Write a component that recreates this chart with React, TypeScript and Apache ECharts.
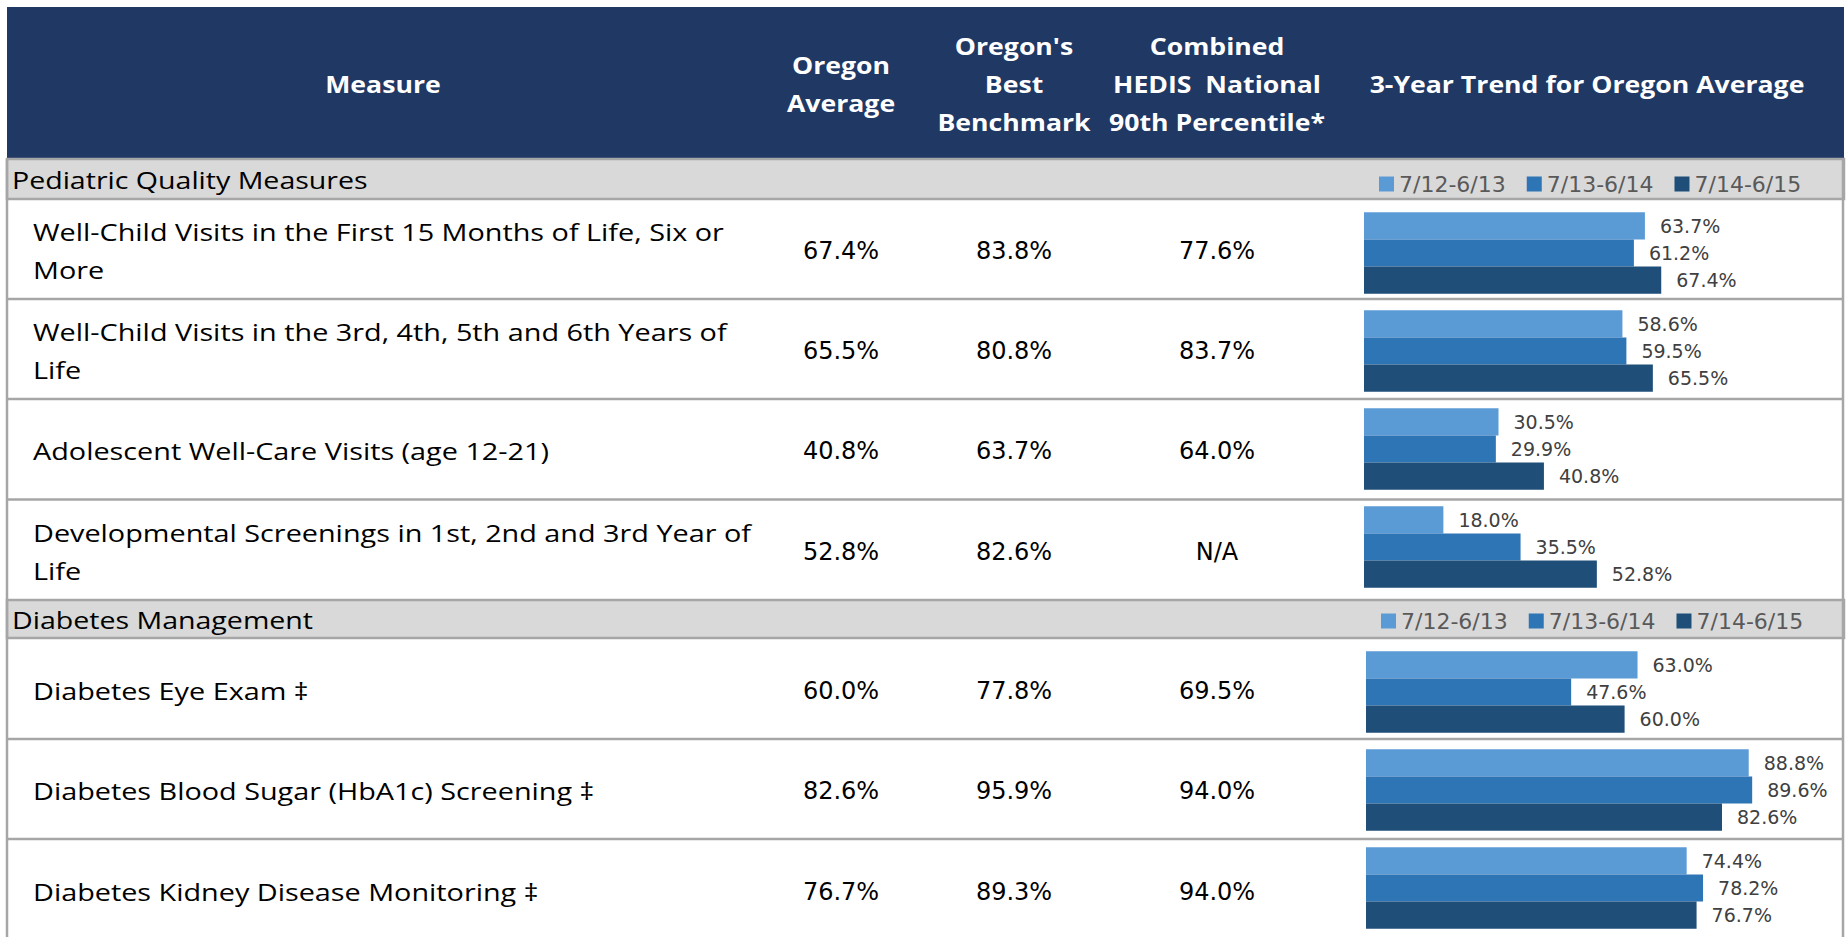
import React, { useEffect, useRef } from "react";
import * as echarts from "echarts";

// ---------- data ----------
const headerLabels = [
  "Measure",
  "Oregon\nAverage",
  "Oregon's\nBest\nBenchmark",
  "Combined\nHEDIS  National\n90th Percentile*",
  "3-Year Trend for Oregon Average",
];
const sectionNames = ["Pediatric Quality Measures", "Diabetes Management"];
const periods = ["7/12-6/13", "7/13-6/14", "7/14-6/15"];

const pediatricMeasures = [
  "Well-Child Visits in the First 15 Months of Life, Six or\nMore",
  "Well-Child Visits in the 3rd, 4th, 5th and 6th Years of\nLife",
  "Adolescent Well-Care Visits (age 12-21)",
  "Developmental Screenings in 1st, 2nd and 3rd Year of\nLife",
];
const pediatricOregonAvg = [67.4, 65.5, 40.8, 52.8];
const pediatricBest = [83.8, 80.8, 63.7, 82.6];
const pediatricHedis: (number | null)[] = [77.6, 83.7, 64.0, null];
const pediatric1213 = [63.7, 58.6, 30.5, 18.0];
const pediatric1314 = [61.2, 59.5, 29.9, 35.5];
const pediatric1415 = [67.4, 65.5, 40.8, 52.8];

const diabetesMeasures = [
  "Diabetes Eye Exam \u2021",
  "Diabetes Blood Sugar (HbA1c) Screening \u2021",
  "Diabetes Kidney Disease Monitoring \u2021",
];
const diabetesOregonAvg = [60.0, 82.6, 76.7];
const diabetesBest = [77.8, 95.9, 89.3];
const diabetesHedis: (number | null)[] = [69.5, 94.0, 94.0];
const diabetes1213 = [63.0, 88.8, 74.4];
const diabetes1314 = [47.6, 89.6, 78.2];
const diabetes1415 = [60.0, 82.6, 76.7];

// ---------- style / layout ----------
const NAVY = "#203864";
const BAND = "#D9D9D9";
const RULE = "#A6A6A6";
const BAR_COLORS = ["#5B9BD5", "#2E75B6", "#1F4E79"];
const LABEL_FONT = "Open Sans";
const NUM_FONT = "DejaVu Sans";

const TABLE_L = 7;
const TABLE_R = 1844;
const HEADER_T = 7;
const HEADER_B = 159;
const COL_X = [383, 841, 1014, 1217, 1587];

const sections = [
  {
    bandTop: 159,
    bandBottom: 199,
    rowTops: [199, 299, 399, 499.5],
    bottom: 600,
    measures: pediatricMeasures,
    avg: pediatricOregonAvg,
    best: pediatricBest,
    hedis: pediatricHedis,
    trend: [pediatric1213, pediatric1314, pediatric1415],
    grid: { left: 1364, top: 204, width: 441, height: 392 },
    legendTop: 173,
    legendLeft: 1379,
  },
  {
    bandTop: 600,
    bandBottom: 638,
    rowTops: [638, 739, 839],
    bottom: 940,
    measures: diabetesMeasures,
    avg: diabetesOregonAvg,
    best: diabetesBest,
    hedis: diabetesHedis,
    trend: [diabetes1213, diabetes1314, diabetes1415],
    grid: { left: 1366, top: 643, width: 431, height: 294 },
    legendTop: 610,
    legendLeft: 1381,
  },
];

const fmt = (v: number | null) => (v == null ? "N/A" : v.toFixed(1) + "%");

function buildGraphic() {
  const els: any[] = [];
  // header
  els.push({
    type: "rect",
    shape: { x: TABLE_L, y: HEADER_T, width: TABLE_R - TABLE_L, height: HEADER_B - HEADER_T },
    style: { fill: NAVY },
    z: 0,
  });
  headerLabels.forEach((t, i) => {
    els.push({
      type: "text",
      x: COL_X[i],
      y: 84,
      scaleX: 1.11,
      z: 1,
      style: {
        text: t,
        fill: "#FFFFFF",
        fontFamily: LABEL_FONT,
        fontWeight: "bold",
        fontSize: 24,
        lineHeight: 38,
        textAlign: "center",
        textVerticalAlign: "middle",
      },
    });
  });

  sections.forEach((s, si) => {
    // band
    els.push({
      type: "rect",
      shape: { x: TABLE_L, y: s.bandTop, width: TABLE_R - TABLE_L, height: s.bandBottom - s.bandTop },
      style: { fill: BAND, stroke: RULE, lineWidth: 2.5 },
      z: 0,
    });
    els.push({
      type: "text",
      x: 12,
      y: (s.bandTop + s.bandBottom) / 2 + 1,
      scaleX: 1.19,
      z: 1,
      style: {
        text: sectionNames[si],
        fill: "#000000",
        fontFamily: LABEL_FONT,
        fontSize: 24,
        textAlign: "left",
        textVerticalAlign: "middle",
      },
    });
    // rows
    s.rowTops.forEach((top, ri) => {
      const bottom = ri + 1 < s.rowTops.length ? s.rowTops[ri + 1] : s.bottom;
      const cy = (top + bottom) / 2 + 2;
      if (ri + 1 < s.rowTops.length) {
        els.push({
          type: "line",
          shape: { x1: TABLE_L, y1: bottom, x2: TABLE_R, y2: bottom },
          style: { stroke: RULE, lineWidth: 2.5 },
          z: 1,
        });
      }
      els.push({
        type: "text",
        x: 33,
        y: cy,
        scaleX: 1.2,
        z: 1,
        style: {
          text: s.measures[ri],
          fill: "#000000",
          fontFamily: LABEL_FONT,
          fontSize: 24,
          lineHeight: 38,
          textAlign: "left",
          textVerticalAlign: "middle",
        },
      });
      [s.avg[ri], s.best[ri], s.hedis[ri]].forEach((v, ci) => {
        els.push({
          type: "text",
          x: COL_X[ci + 1],
          y: cy,
          z: 1,
          style: {
            text: fmt(v),
            fill: "#000000",
            fontFamily: NUM_FONT,
            fontSize: 24,
            textAlign: "center",
            textVerticalAlign: "middle",
          },
        });
      });
    });
  });
  // outer side borders
  els.push({
    type: "line",
    shape: { x1: TABLE_L, y1: HEADER_B, x2: TABLE_L, y2: 940 },
    style: { stroke: RULE, lineWidth: 2.5 },
    z: 2,
  });
  els.push({
    type: "line",
    shape: { x1: TABLE_R - 1, y1: HEADER_B, x2: TABLE_R - 1, y2: 940 },
    style: { stroke: RULE, lineWidth: 2.5 },
    z: 2,
  });
  return els;
}

function buildOption() {
  const grids: any[] = [];
  const xAxes: any[] = [];
  const yAxes: any[] = [];
  const series: any[] = [];
  const legends: any[] = [];
  sections.forEach((s, si) => {
    grids.push({ ...s.grid, containLabel: false });
    xAxes.push({ type: "value", gridIndex: si, min: 0, max: 100, show: false });
    yAxes.push({
      type: "category",
      gridIndex: si,
      data: s.measures,
      inverse: true,
      show: false,
    });
    s.trend.forEach((vals, pi) => {
      series.push({
        type: "bar",
        name: periods[pi],
        xAxisIndex: si,
        yAxisIndex: si,
        data: vals,
        barGap: "0%",
        barCategoryGap: "17%",
        itemStyle: { color: BAR_COLORS[pi] },
        label: {
          show: true,
          position: "right",
          distance: 15,
          formatter: (p: any) => fmt(p.value),
          fontFamily: NUM_FONT,
          fontSize: 19,
          color: "#404040",
        },
        z: 3,
      });
    });
    legends.push({
      data: periods,
      left: s.legendLeft,
      top: s.legendTop,
      itemWidth: 15,
      itemHeight: 15,
      itemGap: 21,
      icon: "rect",
      selectedMode: false,
      padding: 0,
      textStyle: { fontFamily: NUM_FONT, fontSize: 22, color: "#595959" },
    });
  });
  return {
    animation: false,
    backgroundColor: "#FFFFFF",
    grid: grids,
    xAxis: xAxes,
    yAxis: yAxes,
    series,
    legend: legends,
    graphic: buildGraphic(),
  };
}

export default function App() {
  const ref = useRef<HTMLDivElement>(null);
  useEffect(() => {
    const chart = echarts.init(ref.current!, null, { renderer: "svg" });
    chart.setOption(buildOption() as any);
    return () => chart.dispose();
  }, []);
  return (
    <div
      ref={ref}
      style={{ position: "fixed", left: 0, top: 0, width: 1847, height: 937, background: "#fff" }}
    />
  );
}
